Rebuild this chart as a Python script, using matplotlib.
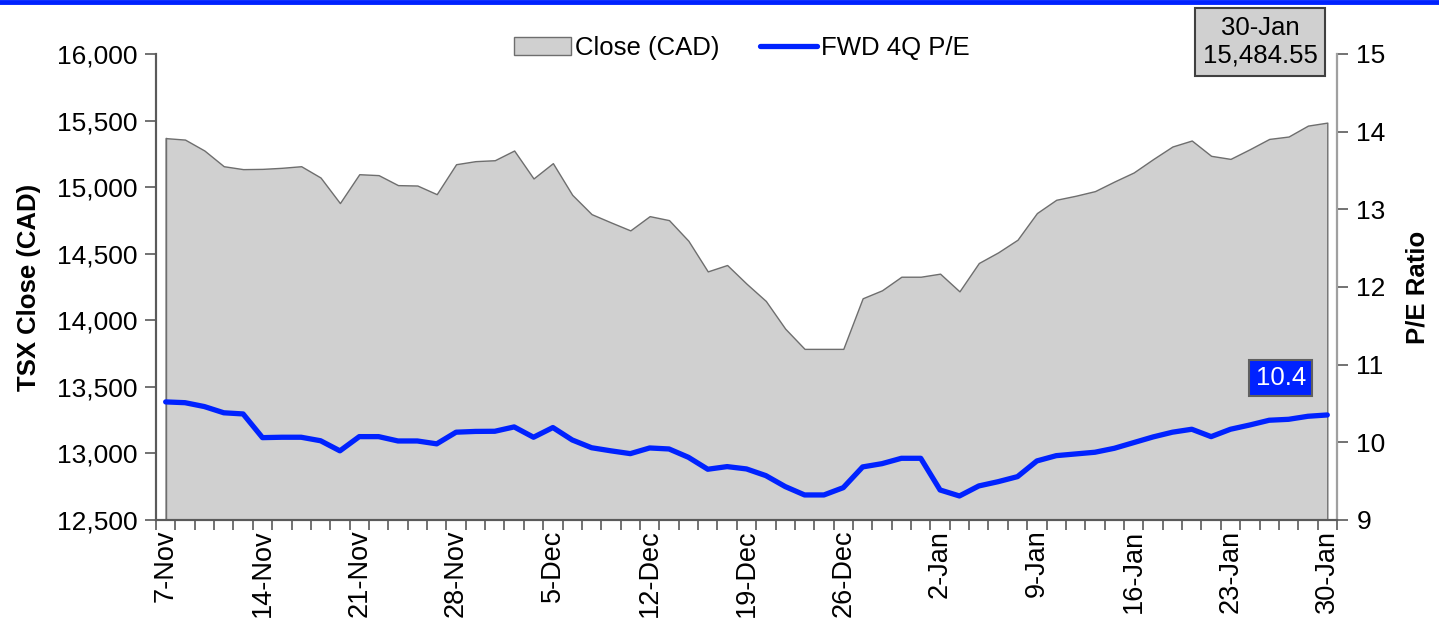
import numpy as np
import matplotlib
matplotlib.use('Agg')
import matplotlib.pyplot as plt
from matplotlib.patches import Patch
from matplotlib.lines import Line2D

plt.rcParams['font.family'] = ['Liberation Sans', 'DejaVu Sans']

# daily closes, 7-Nov to 30-Jan (business days, holidays repeated)
close = [15368, 15357, 15275, 15157, 15135, 15137, 15145, 15157, 15072, 14880,
         15097, 15090, 15015, 15012, 14947, 15172, 15195, 15202, 15275, 15065,
         15180, 14942, 14797, 14735, 14675, 14782, 14752, 14597, 14367, 14415,
         14275, 14145, 13937, 13785, 13785, 13785, 14165, 14225, 14327, 14327,
         14350, 14217, 14430, 14510, 14605, 14805, 14905, 14935, 14970, 15042,
         15110, 15210, 15305, 15350, 15235, 15212, 15285, 15362, 15380, 15462,
         15484.55]
pe = [10.52, 10.51, 10.46, 10.38, 10.365, 10.06, 10.065, 10.065, 10.02, 9.89,
      10.073, 10.073, 10.017, 10.017, 9.98, 10.13, 10.14, 10.142, 10.198, 10.065,
      10.19, 10.03, 9.93, 9.89, 9.854, 9.927, 9.914, 9.807, 9.653, 9.687,
      9.657, 9.571, 9.43, 9.322, 9.322, 9.416, 9.683, 9.725, 9.794, 9.794,
      9.386, 9.309, 9.438, 9.493, 9.558, 9.76, 9.828, 9.85, 9.872, 9.923,
      9.996, 10.069, 10.13, 10.168, 10.073, 10.168, 10.223, 10.284, 10.296, 10.335,
      10.352]
tick_labels = ['7-Nov', '14-Nov', '21-Nov', '28-Nov', '5-Dec', '12-Dec', '19-Dec',
               '26-Dec', '2-Jan', '9-Jan', '16-Jan', '23-Jan', '30-Jan']

x = np.arange(len(close))
axis_col = '#5a5a5a'

fig = plt.figure(figsize=(14.39, 6.19), dpi=100)
ax = fig.add_axes([0.1084, 0.16, 0.9291 - 0.1084, 0.9128 - 0.16])
ax2 = ax.twinx()

ax.fill_between(x, 12500, close, facecolor='#d0d0d0', edgecolor='#6e6e6e',
                linewidth=1.0, zorder=1)
ax.plot([x[0], x[0]], [12500, close[0]], color='#6e6e6e', lw=1.0)
ax2.plot(x, pe, color='#0022ff', lw=3.8, solid_capstyle='round', zorder=3)

ax.set_xlim(-0.5, len(close) - 0.5)
ax.set_ylim(12500, 16000)
ax2.set_ylim(9, 15)
ax.set_yticks(np.arange(12500, 16001, 500))
ax.set_yticklabels([f'{v:,}' for v in range(12500, 16001, 500)])
ax2.set_yticks(range(9, 16))

# ticks at category boundaries, labels on categories
ax.set_xticks(np.arange(-0.5, len(close), 1))
ax.set_xticklabels([])
ax.set_xticks(np.arange(0, len(close), 5), tick_labels, minor=True, rotation=90)
ax.tick_params(axis='x', which='major', length=7, width=1.2, color=axis_col, direction='out')
ax.tick_params(axis='x', which='minor', length=0, pad=7, labelsize=19.5)
ax.tick_params(axis='y', length=8, width=1.2, color=axis_col, labelsize=19, pad=5)
ax2.tick_params(axis='y', length=8, width=1.2, color=axis_col, labelsize=19, pad=6)

for a in (ax, ax2):
    a.spines['top'].set_visible(False)
    for s in ('left', 'right', 'bottom'):
        a.spines[s].set_color(axis_col)
        a.spines[s].set_linewidth(1.5)
ax2.spines['right'].set_color('#a0a0a0')

ax.set_ylabel('TSX Close (CAD)', fontsize=18.5, fontweight='bold', labelpad=12)
ax2.set_ylabel('P/E Ratio', fontsize=18.5, fontweight='bold', labelpad=14)

handles = [Patch(facecolor='#d0d0d0', edgecolor='#6e6e6e', lw=1.0),
           Line2D([], [], color='#0022ff', lw=3.8, solid_capstyle='round')]
fig.legend(handles, ['Close (CAD)', 'FWD 4Q P/E'], loc='center',
           bbox_to_anchor=(0.5155, 0.923), ncol=2, frameon=False, fontsize=18.5,
           handlelength=2.2, handletextpad=0.15, columnspacing=1.6)

fig.text(0.8756, 0.932, f"30-Jan\n{close[-1]:,.2f}", ha='center', va='center',
         fontsize=18.5, linespacing=1.2,
         bbox=dict(boxstyle='square,pad=0.3', facecolor='#d0d0d0',
                   edgecolor='#404040', lw=1.5))
fig.text(0.890, 0.3893, f"{pe[-1]:.1f}", ha='center', va='center',
         fontsize=18.5, color='white',
         bbox=dict(boxstyle='square,pad=0.25', facecolor='#0022ff',
                   edgecolor='#606060', lw=1.5))

# blue rule along the top edge
fig.add_artist(Line2D([0, 1], [0.9965, 0.9965], color='#0022ff', lw=3.5))

fig.savefig('out.png', dpi=100)
